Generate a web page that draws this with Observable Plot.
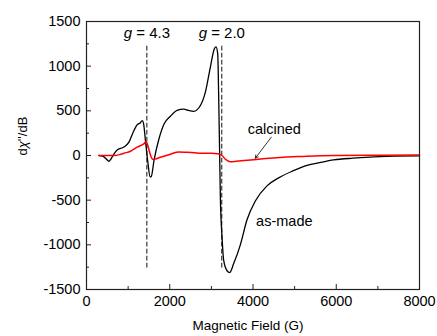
<!DOCTYPE html>
<html><head><meta charset="utf-8">
<script src="https://cdn.jsdelivr.net/npm/d3@7"></script>
<script src="https://cdn.jsdelivr.net/npm/@observablehq/plot@0.6"></script>
<style>
html,body{margin:0;padding:0;background:#fff;}
#chart svg{display:block;}
</style>
</head><body><div id="chart"></div>
<script>
// As-made sample (black)
const asMadeField = [300,400,500,540,600,650,730,900,1020,1140,1220,1290,1340,1370,1420,1470,1530,1560,1620,1740,1860,2016,2176,2336,2450,2576,2736,2856,2976,3072,3112,3152,3176,3200,3216,3256,3296,3376,3440,3536,3696,3856,4056,4336,4616,4970,5300,5600,5936,6400,6800,7400,8000];
const asMadeSignal = [0,-10,-50,-65,-30,10,60,95,150,280,345,365,390,360,150,-60,-240,-230,-60,185,350,440,505,520,505,495,560,710,990,1195,1215,1140,650,-20,-470,-910,-1175,-1290,-1310,-1210,-1000,-720,-510,-340,-250,-170,-110,-80,-50,-30,-18,-8,-3];
// Calcined sample (red)
const calcinedField = [300,650,800,900,1056,1216,1376,1440,1480,1540,1600,1650,1776,2016,2216,2416,2600,2736,3000,3150,3216,3256,3330,3456,3600,4016,4400,4736,5200,5616,6000,7000,8000];
const calcinedSignal = [0,0,10,25,48,93,131,155,100,0,-45,-40,-19,15,40,35,30,26,25,20,10,0,-40,-70,-65,-48,-30,-19,-10,-3,0,3,5];
// g-value markers
const gField = [1450, 3250];
const gText = ["g = 4.3", "g = 2.0"];
const gExtent = [-1250, 1250];
// Ticks
const xTicksMajor = [0, 2000, 4000, 6000, 8000];
const xTicksMinor = [1000, 3000, 5000, 7000];
const yTicksMajor = [-1500, -1000, -500, 0, 500, 1000, 1500];
const yTicksMinor = [-1250, -750, -250, 250, 750, 1250];
// Curve labels (data coordinates)
const curveLabels = ["calcined", "as-made"];
const curveLabelField = [4512, 4752];
const curveLabelSignal = [246, -791];
const arrowFrom = [4440, 205];
const arrowTo = [4056, -30];

const asMade = asMadeField.map((f, i) => ({field: f, signal: asMadeSignal[i]}));
const calcined = calcinedField.map((f, i) => ({field: f, signal: calcinedSignal[i]}));
const gLines = gField.flatMap((f, i) => gExtent.map(s => ({field: f, signal: s, g: gText[i]})));
const gLabelData = gField.map((f, i) => ({field: f, text: gText[i]}));
const labelData = curveLabels.map((t, i) => ({text: t, field: curveLabelField[i], signal: curveLabelSignal[i]}));

const W = 437, H = 336, mL = 86, mR = 18, mT = 21, mB = 47;
const pw = W - mL - mR, ph = H - mT - mB;
const fmt = d => String(d);

const chart = Plot.plot({
  width: W, height: H,
  marginLeft: mL, marginRight: mR, marginTop: mT, marginBottom: mB,
  style: {fontFamily: "Arial, 'Liberation Sans', sans-serif", fontSize: "14.5px", color: "#000", background: "#fff"},
  x: {domain: [0, 8000], axis: null},
  y: {domain: [-1500, 1500], axis: null},
  marks: [
    Plot.tickX(xTicksMajor, {x: d => d, insetTop: ph - 5, stroke: "#222"}),
    Plot.tickX(xTicksMinor, {x: d => d, insetTop: ph - 3, stroke: "#222"}),
    Plot.tickY(yTicksMajor, {y: d => d, insetRight: pw - 5, stroke: "#222"}),
    Plot.tickY(yTicksMinor, {y: d => d, insetRight: pw - 3, stroke: "#222"}),
    Plot.axisX(xTicksMajor, {tickSize: 0, tickPadding: 6, tickFormat: fmt, fontSize: 14.5, label: null}),
    Plot.axisY(yTicksMajor, {tickSize: 0, tickPadding: 6, tickFormat: fmt, fontSize: 14.5, label: null}),
    Plot.line(gLines, {x: "field", y: "signal", z: "g", stroke: "#111", strokeWidth: 1, strokeDasharray: "4,3"}),
    Plot.line(asMade, {x: "field", y: "signal", stroke: "#000", strokeWidth: 1.3, curve: "monotone-x"}),
    Plot.line(calcined, {x: "field", y: "signal", stroke: "#ff0000", strokeWidth: 1.5, curve: "monotone-x"}),
    Plot.frame({stroke: "#222", strokeWidth: 1.2}),
    Plot.text(gLabelData, {x: "field", y: () => 1310, text: "text", lineAnchor: "bottom", fontSize: 15, fill: "#000"}),
    Plot.text(labelData, {x: "field", y: "signal", text: "text", lineAnchor: "bottom", fontSize: 14.5, fill: "#000"}),
    Plot.arrow([0], {x1: () => arrowFrom[0], y1: () => arrowFrom[1], x2: () => arrowTo[0], y2: () => arrowTo[1], headLength: 6, strokeWidth: 0.8, stroke: "#000"}),
    Plot.text(["Magnetic Field (G)"], {frameAnchor: "bottom", text: d => d, dy: 40, dx: -5, lineAnchor: "bottom", fontSize: 13.5, fill: "#000"}),
    Plot.text(["dχ''/dB"], {frameAnchor: "left", text: d => d, rotate: -90, dx: -64, lineAnchor: "middle", fontSize: 13, fill: "#000"})
  ]
});
document.getElementById("chart").appendChild(chart);

// Italic variables: g and χ
chart.querySelectorAll("text").forEach(t => {
  const s = t.textContent;
  if (/^g = /.test(s) || s.includes("χ")) {
    const target = t.querySelector("tspan") || t;
    const str = target.textContent;
    const idx = str.startsWith("g") ? 0 : str.indexOf("χ");
    target.textContent = "";
    const ns = "http://www.w3.org/2000/svg";
    const a = document.createElementNS(ns, "tspan"); a.textContent = str.slice(0, idx);
    const b = document.createElementNS(ns, "tspan"); b.textContent = str[idx]; b.setAttribute("font-style", "italic");
    const c = document.createElementNS(ns, "tspan"); c.textContent = str.slice(idx + 1);
    if (a.textContent) target.appendChild(a);
    target.appendChild(b); target.appendChild(c);
  }
});
</script>
</body></html>
